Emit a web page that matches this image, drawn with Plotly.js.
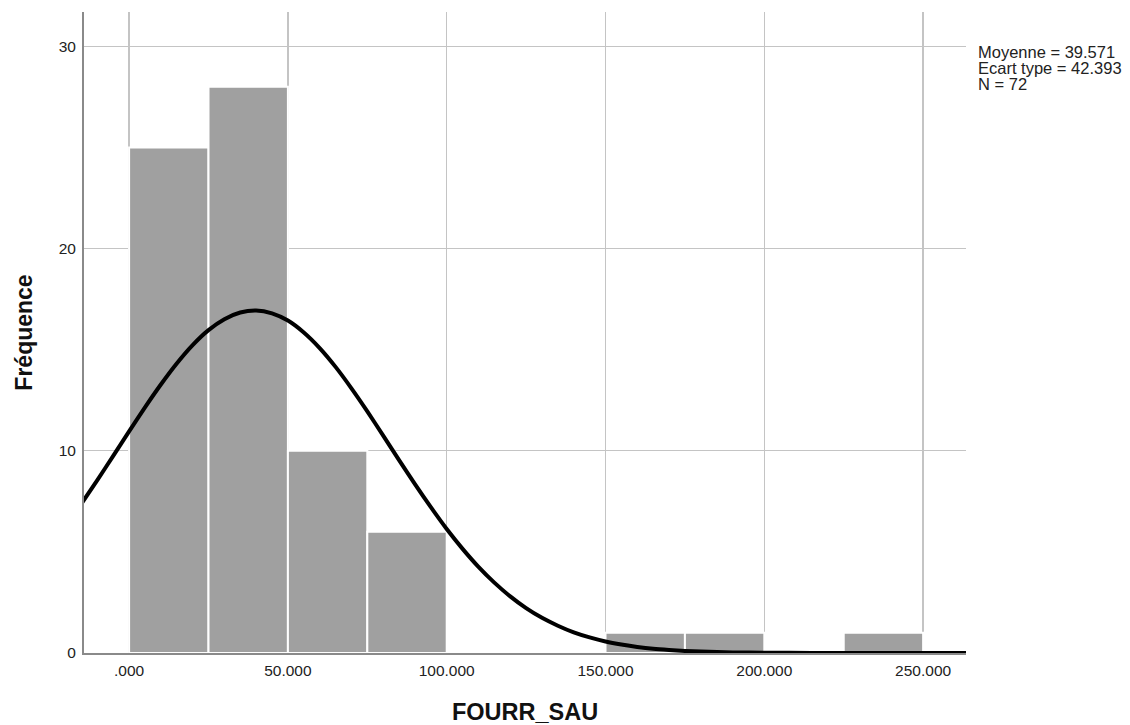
<!DOCTYPE html>
<html>
<head>
<meta charset="utf-8">
<script src="https://cdn.plot.ly/plotly-3.0.1.min.js"></script>
<style>html,body{margin:0;padding:0;background:#fff;}#chart{width:1130px;height:725px;}</style>
</head>
<body>
<div id="chart"></div>
<script>
// Histogram bins (FOURR_SAU), bin width 25
const binCenters = [12.5, 37.5, 62.5, 87.5, 112.5, 137.5, 162.5, 187.5, 212.5, 237.5];
const binCounts  = [25, 28, 10, 6, 0, 0, 1, 1, 0, 1];
const binWidth = 25;

// Normal curve
const curveX = [-15, -10, -5, 0, 5, 10, 15, 20, 25, 30, 35, 40, 45, 50, 55, 60, 65, 70, 75, 80, 85, 90, 95, 100,
                105, 110, 115, 120, 125, 130, 135, 140, 145, 150, 155, 160, 165, 170, 175, 180, 190, 200, 215, 240, 265];
const curveY = [7.39, 8.55, 9.75, 10.96, 12.15, 13.28, 14.32, 15.23, 15.97, 16.51, 16.84, 16.94, 16.8, 16.44, 15.85, 15.08, 14.15, 13.09, 11.95, 10.75, 9.54, 8.35, 7.21, 6.13,
                5.15, 4.26, 3.48, 2.8, 2.22, 1.74, 1.35, 1.02, 0.77, 0.57, 0.42, 0.3, 0.21, 0.15, 0.1, 0.07, 0.03, 0.013, 0.003, 0, 0];

const xTickVals = [0, 50, 100, 150, 200, 250];
const xTickText = ['.000', '50.000', '100.000', '150.000', '200.000', '250.000'];
const yTickVals = [0, 10, 20, 30];

const statsText = ['Moyenne = 39.571', 'Ecart type = 42.393', 'N = 72'];
const statsPos = [0.937, 0.912, 0.887];

const traces = [
  {
    type: 'bar',
    x: binCenters,
    y: binCounts,
    width: binCenters.map(() => binWidth),
    marker: {color: '#a0a0a0', line: {color: '#ffffff', width: 2}},
    hoverinfo: 'x+y'
  },
  {
    type: 'scatter',
    mode: 'lines',
    x: curveX,
    y: curveY,
    line: {color: '#000000', width: 4, shape: 'spline', smoothing: 0.6},
    hoverinfo: 'skip'
  }
];

const layout = {
  width: 1130, height: 725,
  margin: {l: 84, r: 164, t: 12, b: 72, pad: 0},
  paper_bgcolor: '#ffffff', plot_bgcolor: '#ffffff',
  showlegend: false,
  bargap: 0,
  font: {family: 'Arial, Liberation Sans, sans-serif', size: 15.5, color: '#222222'},
  xaxis: {
    range: [-14.2, 263.5],
    tickvals: xTickVals, ticktext: xTickText,
    showgrid: true, gridcolor: '#c4c4c4', gridwidth: 1.3,
    zeroline: false,
    showline: true, linecolor: '#8a8a8a', linewidth: 2,
    ticks: '', ticklabelstandoff: 2,
    tickfont: {size: 15.5, color: '#222222'},
    title: {text: 'FOURR_SAU', font: {size: 23.5, color: '#111111', weight: 'bold'}, standoff: 27}
  },
  yaxis: {
    range: [0, 31.7],
    tickvals: yTickVals,
    showgrid: true, gridcolor: '#c4c4c4', gridwidth: 1.3,
    zeroline: false,
    showline: true, linecolor: '#8a8a8a', linewidth: 2,
    ticks: '', ticklabelstandoff: 3,
    tickfont: {size: 15.5, color: '#222222'},
    title: {text: 'Fréquence', font: {size: 23, color: '#111111', weight: 'bold'}, standoff: 20}
  },
  annotations: statsText.map((t, i) => ({
    xref: 'paper', yref: 'paper', x: 1, y: statsPos[i],
    xanchor: 'left', yanchor: 'middle', xshift: 10,
    align: 'left', showarrow: false,
    text: t,
    font: {size: 16.5, color: '#222222'}
  }))
};

Plotly.newPlot('chart', traces, layout, {displayModeBar: false, staticPlot: true});
</script>
</body>
</html>
